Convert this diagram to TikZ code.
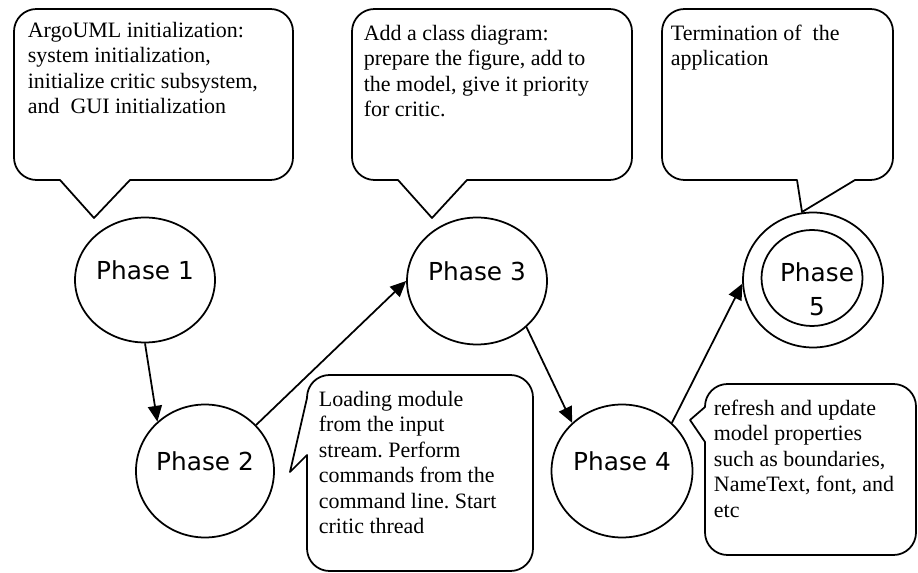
\documentclass[tikz,border=0pt]{standalone}
\usepackage{fontspec}
\setmainfont{Liberation Serif}
\newfontfamily\phasefont{DejaVu Sans}
\usetikzlibrary{shapes.geometric,arrows.meta}
\frenchspacing
\tikzset{
	phase/.style={draw, ellipse, inner sep=0pt, minimum width=2.8cm, minimum height=2.5cm,
		font=\phasefont\fontsize{14.1}{19.3}\selectfont, text height=10.7pt, text depth=11.8pt},
	note/.style={anchor=north west, inner sep=0pt, align=left, font=\fontsize{12.5}{14.5}\selectfont}
}
\begin{document}
\begin{tikzpicture}[x=0.02cm, y=-0.02cm, line width=1pt, line join=round, >={Triangle[length=9pt,width=8pt]}]
		\def\rad{0.45cm} % callout corners
		\useasboundingbox (0,0) rectangle (918,573);
		% phases
		\node[phase] (p1) at (145,280) {Phase 1};
		\node[phase, minimum width=2.72cm, minimum height=2.66cm] (p2) at (205,471) {Phase 2};
		\node[phase, minimum height=2.54cm] (p3) at (477,281) {Phase 3};
		\node[phase, minimum width=2.82cm, minimum height=2.66cm] (p4) at (622,471) {Phase 4};
		\node[phase, minimum height=2.7cm] (p5) at (813,280) {};
		\node[phase, minimum width=2.02cm, minimum height=1.92cm] (p5in) at (812,278) {};
		\node[font=\phasefont\fontsize{14.1}{19.3}\selectfont, align=center, anchor=north, inner sep=0pt] (p5txt) at (817,262) {Phase\\5};
		\draw[->] (p1.-90)--(p2.134);
		\draw[->] (p2.42)--(p3.180);
		\draw[->] (p3.-43)--(p4.136);
		\draw[->] (p4.44)--(p5.183);
		% callouts
		\draw (94,218)--(130,180) [rounded corners=\rad]--(293,180)--(293,9)--(14,9)--(14,180) [sharp corners]--(60,180)--cycle;
		\draw (432,218)--(467,180) [rounded corners=\rad]--(632,180)--(632,9)--(352,9)--(352,180) [sharp corners]--(398,180)--cycle;
		\draw (802,212)--(855,180) [rounded corners=\rad]--(893,180)--(893,9)--(662,9)--(662,180) [sharp corners]--(797,180)--cycle;
		\draw (290,472)--(307,455) [rounded corners=\rad]--(307,571)--(533,571)--(533,375)--(307,375) [sharp corners]--(307,398)--cycle;
		\draw (690,420)--(705,442) [rounded corners=\rad]--(705,555)--(916,555)--(916,384)--(705,384) [sharp corners]--(705,407)--cycle;
		\node[note] (t1) at (27,21) {ArgoUML initialization:\\system initialization,\\initialize critic subsystem,\\and~~GUI initialization};
		\node[note] (t2) at (363,24) {Add a class diagram:\\prepare the figure, add to\\the model, give it priority\\for critic.};
		\node[note] (t3) at (670,24) {Termination of~~the\\application};
		\node[note] (t4) at (318,390) {Loading module\\from the input\\stream. Perform\\commands from the\\command line. Start\\critic thread};
		\node[note] (t5) at (713,399) {refresh and update\\model properties\\such as boundaries,\\NameText, font, and\\etc};
\end{tikzpicture}
\end{document}
